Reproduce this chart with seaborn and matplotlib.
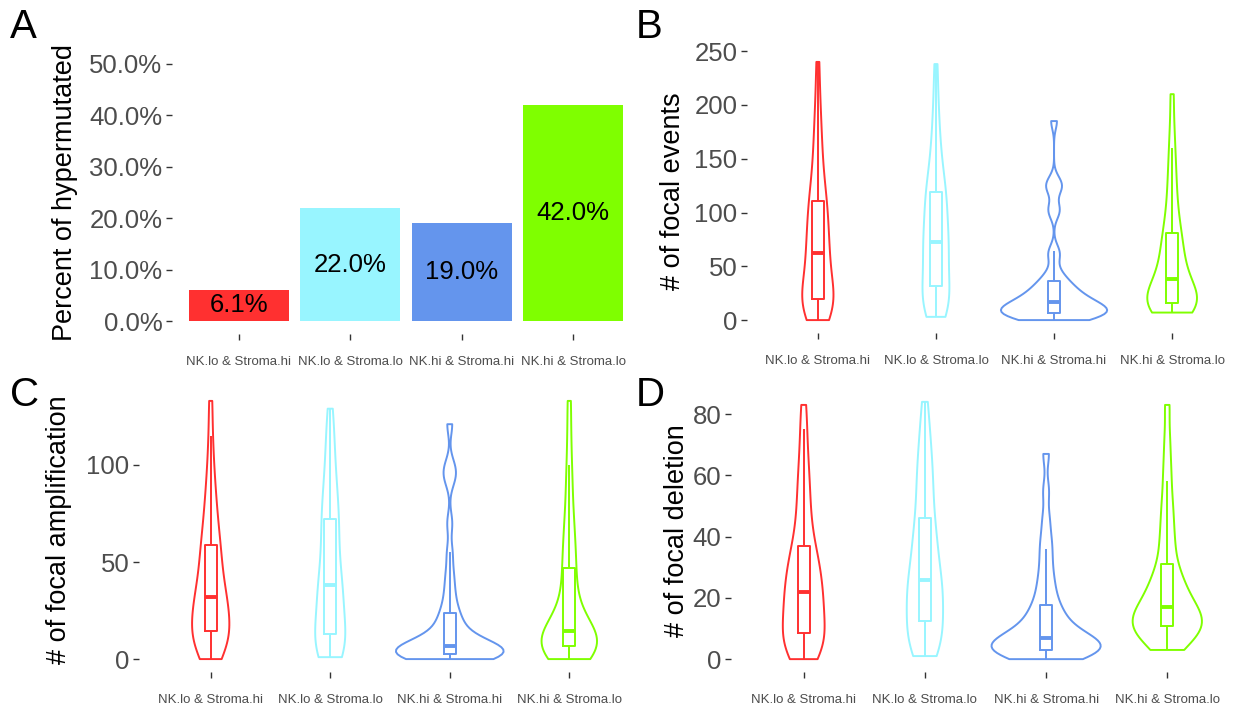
import numpy as np
import pandas as pd
import matplotlib
matplotlib.use("Agg")
import matplotlib.pyplot as plt
from matplotlib.ticker import FuncFormatter
import seaborn as sns

# ---- groups and colours ----
groups = ["NK.lo & Stroma.hi", "NK.lo & Stroma.lo", "NK.hi & Stroma.hi", "NK.hi & Stroma.lo"]
colors = ["#FF3030", "#98F5FF", "#6495ED", "#7FFF00"]

# ---- panel A: share of hypermutated samples per group ----
hypermutated_pct = [0.061, 0.22, 0.19, 0.42]

# ---- panel B: number of focal events per sample ----
events_nklo_strhi = [0, 3, 6, 9, 11, 13, 15, 16, 17, 18, 20, 24, 28, 33, 38, 43, 48, 53, 57, 60,
                     64, 69, 74, 79, 84, 89, 95, 100, 105, 110, 114, 122, 130, 140, 150, 162, 175, 190, 210, 240]
events_nklo_strlo = [3, 5, 8, 10, 13, 16, 19, 22, 25, 28, 33, 38, 43, 48, 53, 58, 62, 66, 69, 71,
                     75, 80, 85, 90, 95, 100, 105, 110, 114, 118, 122, 128, 135, 143, 152, 162, 175, 190, 210, 238]
events_nkhi_strhi = [0, 1, 2, 3, 4, 4, 5, 5, 6, 6, 7, 8, 9, 10, 11, 12, 13, 14, 15, 16,
                     17, 18, 20, 22, 24, 26, 28, 30, 33, 35, 40, 45, 60, 64, 100, 104, 121, 125, 129, 185]
events_nkhi_strlo = [7, 8, 9, 10, 11, 12, 13, 14, 14, 15, 16, 18, 20, 22, 24, 26, 28, 31, 34, 36,
                     40, 44, 48, 52, 56, 60, 65, 70, 75, 79, 85, 92, 100, 110, 120, 132, 145, 160, 180, 210]

# ---- panel C: number of focal amplifications per sample ----
amp_nklo_strhi = [0, 2, 4, 6, 8, 9, 10, 11, 12, 13, 15, 17, 19, 21, 23, 25, 27, 29, 30, 31,
                  33, 35, 38, 41, 44, 47, 50, 53, 56, 58, 62, 66, 70, 75, 80, 86, 93, 102, 115, 133]
amp_nklo_strlo = [1, 2, 3, 4, 5, 6, 8, 9, 10, 10, 14, 17, 20, 23, 26, 29, 31, 33, 35, 37,
                  39, 42, 45, 49, 53, 57, 61, 65, 68, 71, 75, 79, 83, 87, 92, 98, 105, 112, 120, 129]
amp_nkhi_strhi = [0, 0, 1, 1, 1, 2, 2, 2, 2, 2, 3, 3, 4, 4, 5, 5, 5, 6, 6, 6,
                  7, 8, 9, 10, 12, 14, 16, 18, 21, 23, 27, 32, 38, 45, 55, 70, 92, 96, 100, 121]
amp_nkhi_strlo = [0, 1, 2, 3, 3, 4, 4, 5, 5, 6, 7, 8, 9, 10, 10, 11, 12, 13, 13, 14,
                  15, 17, 19, 22, 25, 28, 32, 36, 41, 46, 50, 55, 60, 66, 72, 80, 90, 100, 115, 133]

# ---- panel D: number of focal deletions per sample ----
del_nklo_strhi = [0, 1, 2, 3, 4, 5, 6, 6, 7, 7, 9, 11, 13, 14, 16, 17, 18, 19, 20, 21,
                  23, 24, 26, 27, 29, 30, 32, 33, 35, 36, 40, 43, 46, 50, 54, 58, 62, 68, 75, 83]
del_nklo_strlo = [1, 2, 3, 4, 5, 6, 7, 9, 10, 11, 13, 15, 17, 18, 20, 21, 22, 23, 24, 25,
                  27, 29, 31, 33, 35, 37, 39, 41, 43, 45, 49, 52, 55, 58, 61, 64, 68, 72, 77, 84]
del_nkhi_strhi = [0, 0, 1, 1, 2, 2, 2, 3, 3, 3, 3, 4, 4, 5, 5, 5, 6, 6, 6, 7,
                  7, 8, 9, 10, 11, 12, 13, 15, 16, 17, 20, 22, 25, 28, 32, 36, 40, 46, 55, 67]
del_nkhi_strlo = [3, 4, 5, 6, 7, 8, 9, 9, 10, 10, 11, 12, 12, 13, 13, 14, 15, 15, 16, 16,
                  18, 19, 20, 21, 22, 24, 25, 27, 28, 30, 34, 37, 40, 44, 48, 52, 58, 64, 72, 83]

y_titles = ["Percent of hypermutated", "# of focal events",
            "# of focal amplification", "# of focal deletion"]

TICK_COL = "#4D4D4D"
LINE_COL = "#333333"
FONT = "Liberation Sans"

W, H = 1248, 710
fig = plt.figure(figsize=(W / 100, H / 100), dpi=100)
plt.rcParams["font.family"] = FONT


def nrd0(kde):
    """Silverman's rule of thumb (R's bw.nrd0), returned as a gaussian_kde factor."""
    x = np.asarray(kde.dataset).ravel()
    sd = x.std(ddof=1)
    q75, q25 = np.percentile(x, [75, 25])
    spread = min(sd, (q75 - q25) / 1.34)
    bw = 0.9 * spread * len(x) ** -0.2
    return bw / sd


def px_axes(left, right, top, bottom):
    ax = fig.add_axes([left / W, 1 - bottom / H, (right - left) / W, (bottom - top) / H])
    ax._px = (left, right, top, bottom)
    return ax


def style(ax, ylabel, label_x):
    for s in ax.spines.values():
        s.set_visible(False)
    ax.set_xlim(-0.6, len(groups) - 0.4)
    ax.tick_params(axis="y", length=4, width=1, color=LINE_COL, labelcolor=TICK_COL,
                   labelsize=18.5, pad=3)
    ax.tick_params(axis="x", length=4, width=1, color=LINE_COL, labelcolor=TICK_COL,
                   labelsize=9.5, pad=12)
    ax.set_xlabel("")
    ax.set_ylabel(ylabel, fontsize=19.5, color="black")
    ax.yaxis.label.set_va("center")
    left, right, top, bottom = ax._px
    ax.yaxis.set_label_coords((label_x - left) / (right - left), 0.5)
    ax.set_facecolor("white")


def long_frame(series):
    return pd.DataFrame({
        "group": np.repeat(groups, [len(s) for s in series]),
        "value": np.concatenate([np.asarray(s, dtype=float) for s in series]),
    })


def violin_panel(ax, series, ylabel, label_x):
    df = long_frame(series)
    sns.violinplot(data=df, x="group", y="value", hue="group", order=groups,
                   hue_order=groups, palette=colors, fill=False, inner=None, cut=0,
                   density_norm="area", common_norm=True, width=0.9, linewidth=1.4,
                   bw_method=nrd0, bw_adjust=0.8, legend=False, ax=ax)
    sns.boxplot(data=df, x="group", y="value", hue="group", order=groups,
                hue_order=groups, palette=colors, fill=False, width=0.1,
                showfliers=False, showcaps=False, linewidth=1.4,
                medianprops={"linewidth": 2.8}, legend=False, ax=ax)
    lo, hi = df["value"].min(), df["value"].max()
    pad = 0.05 * (hi - lo)
    ax.set_ylim(lo - pad, hi + pad)
    style(ax, ylabel, label_x)


# ---- A: bar chart ----
axA = px_axes(172, 640, 51, 334)
bar_df = pd.DataFrame({"group": groups, "pct": hypermutated_pct})
sns.barplot(data=bar_df, x="group", y="pct", hue="group", order=groups, hue_order=groups,
            palette=colors, saturation=1, width=0.9, legend=False, ax=axA)
for i, v in enumerate(hypermutated_pct):
    axA.text(i, v / 2, f"{v * 100:.1f}%", ha="center", va="center", fontsize=18.5, color="black")
axA.set_ylim(-0.025, 0.525)
axA.set_yticks([0, 0.1, 0.2, 0.3, 0.4, 0.5])
axA.yaxis.set_major_formatter(FuncFormatter(lambda v, _: f"{v * 100:.1f}%"))
style(axA, y_titles[0], 65)

# ---- B, C, D: violins ----
axB = px_axes(747, 1243, 49, 333)
violin_panel(axB, [events_nklo_strhi, events_nklo_strlo, events_nkhi_strhi, events_nkhi_strlo],
             y_titles[1], 673)
axB.set_yticks([0, 50, 100, 150, 200, 250])

axC = px_axes(139, 641, 388, 672)
violin_panel(axC, [amp_nklo_strhi, amp_nklo_strlo, amp_nkhi_strhi, amp_nkhi_strlo],
             y_titles[2], 59)
axC.set_yticks([0, 50, 100])

axD = px_axes(731, 1240, 389, 672)
violin_panel(axD, [del_nklo_strhi, del_nklo_strlo, del_nkhi_strhi, del_nkhi_strlo],
             y_titles[3], 677)
axD.set_yticks([0, 20, 40, 60, 80])

# ---- panel letters ----
for letter, (x, y) in zip("ABCD", [(10, 8), (636, 8), (10, 376), (636, 376)]):
    fig.text(x / W, 1 - y / H, letter, fontsize=29, ha="left", va="top", color="black")

fig.savefig("out.png", dpi=100, facecolor="white")
